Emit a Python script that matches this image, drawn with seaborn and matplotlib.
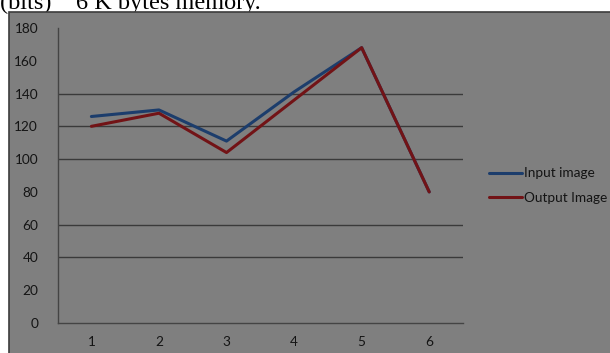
import matplotlib
matplotlib.use("Agg")
import matplotlib.pyplot as plt
from matplotlib.patches import Rectangle
from matplotlib.lines import Line2D
import seaborn as sns
import pandas as pd

# Measurements per test image
samples = [1, 2, 3, 4, 5, 6]
input_image = [126, 130, 111, 141, 168, 80]
output_image = [120, 128, 104, 136, 168, 80]
series_names = ["Input image", "Output Image"]
y_ticks = [0, 20, 40, 60, 80, 100, 120, 140, 160, 180]
grid_values = [40, 60, 100, 120, 140]

df = pd.DataFrame({
    "sample": samples * 2,
    "value": input_image + output_image,
    "series": [series_names[0]] * len(samples) + [series_names[1]] * len(samples),
})

sns.set_style("white")
plt.rcParams["font.family"] = ["Lato", "DejaVu Sans"]

W, H = 610, 353
fig = plt.figure(figsize=(W / 100, H / 100), dpi=100, facecolor="white")

# Chart area panel
fig.patches.append(Rectangle((9 / W, -0.01), 1.0, (H - 12) / H + 0.01,
                             transform=fig.transFigure, facecolor="#7f7f7f",
                             edgecolor="#3c3c3c", linewidth=1.2, zorder=-5))

# Caption line from the surrounding document, cut at the top edge
fig.text(0.0, (H - 9) / H, "(bits)    6 K bytes memory.", family="Liberation Serif",
         fontsize=17.5, color="black", ha="left", va="baseline", zorder=-6)

ax = fig.add_axes([57.6 / W, (H - 323) / H, (463 - 57.6) / W, (323 - 28) / H])
ax.set_facecolor("none")
ax.set_zorder(2)

palette = {series_names[0]: "#1c3d6c", series_names[1]: "#721316"}
sns.lineplot(data=df, x="sample", y="value", hue="series", palette=palette,
             linewidth=2.2, ax=ax, legend=False, zorder=3)

for g in grid_values:
    ax.axhline(g, color="#3a3a3a", linewidth=1.0, zorder=1)

ax.set_xlim(0.5, 6.5)
ax.set_ylim(0, 180)
ax.set_yticks(y_ticks)
ax.set_yticklabels([str(v) for v in y_ticks])
ax.set_xticks([0.5, 1.5, 2.5, 3.5, 4.5, 5.5, 6.5])
ax.set_xticklabels([""] * 7)
ax.set_xticks(samples, minor=True)
ax.set_xticklabels([str(s) for s in samples], minor=True)
ax.tick_params(axis="x", which="major", direction="in", length=4, color="#444444", width=1)
ax.tick_params(axis="x", which="minor", length=0, pad=9, labelsize=9.8, labelcolor="#141414")
ax.tick_params(axis="y", direction="out", length=4, color="#444444", width=1,
               labelsize=9.8, labelcolor="#141414", pad=10)
ax.set_xlabel("")
ax.set_ylabel("")
for side in ["top", "right"]:
    ax.spines[side].set_visible(False)
for side in ["left", "bottom"]:
    ax.spines[side].set_color("#444444")
    ax.spines[side].set_linewidth(1.0)

handles = [Line2D([], [], color=palette[n], linewidth=2.2) for n in series_names]
leg = fig.legend(handles, series_names, loc="upper left",
                 bbox_to_anchor=(484 / W, 1 - 162 / H), frameon=False,
                 fontsize=9.8, handlelength=2.4, handletextpad=0.15,
                 labelspacing=0.9, borderaxespad=0)
for t in leg.get_texts():
    t.set_color("#141414")

fig.savefig("out.png", dpi=100, facecolor="white")
